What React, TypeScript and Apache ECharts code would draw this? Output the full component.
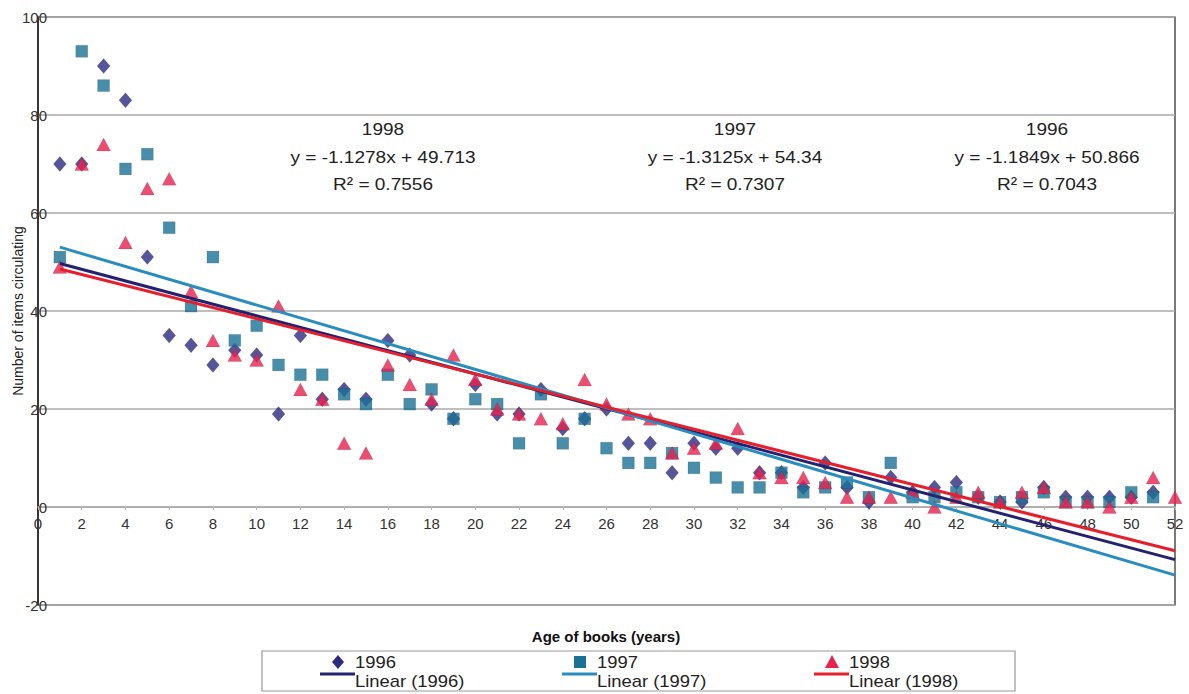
import React, { useEffect, useRef } from "react";
import * as echarts from "echarts";

const ages = [1,2,3,4,5,6,7,8,9,10,11,12,13,14,15,16,17,18,19,20,21,22,23,24,25,26,27,28,29,30,31,32,33,34,35,36,37,38,39,40,41,42,43,44,45,46,47,48,49,50,51,52];
const items1996 = [70,70,90,83,51,35,33,29,32,31,19,35,22,24,22,34,31,21,18,25,19,19,24,16,18,20,13,13,7,13,12,12,7,7,4,9,4,1,6,3,4,5,2,1,1,4,2,2,2,2,3,null];
const items1997 = [51,93,86,69,72,57,41,51,34,37,29,27,27,23,21,27,21,24,18,22,21,13,23,13,18,12,9,9,11,8,6,4,4,7,3,4,5,2,9,2,2,3,2,1,2,3,1,1,1,3,2,null];
const items1998 = [49,70,74,54,65,67,44,34,31,30,41,24,22,13,11,29,25,22,31,26,20,19,18,17,26,21,19,18,11,12,13,16,7,6,6,5,2,2,2,3,0,2,3,1,3,4,1,1,0,2,6,2];

const years = ["1996", "1997", "1998"];
const slopes = [-1.1849, -1.3125, -1.1278];
const intercepts = [50.866, 54.34, 49.713];
const rSquared = ["0.7043", "0.7307", "0.7556"];
const eqTexts = ["y = -1.1849x + 50.866", "y = -1.3125x + 54.34", "y = -1.1278x + 49.713"];

const yTicks = { min: -20, max: 100, interval: 20 };
const xTicks = { min: 0, max: 52, interval: 2 };

const markerColors = ["#2d2b80", "#1a7194", "#e8214e"];
const lineColors = ["#24216e", "#2a8dbd", "#e4202e"];
const symbols = ["diamond", "rect", "triangle"];
const symbolSizes = [[13, 15], 12, [14, 13]];

const GRID = { left: 38, right: 14, top: 17, bottom: 89 };
const H = 694;

export default function App() {
  const ref = useRef<HTMLDivElement>(null);
  useEffect(() => {
    if (!ref.current) return;
    const chart = echarts.init(ref.current, null, { renderer: "svg" });
    const seriesData = [items1996, items1997, items1998];
    const scatter = seriesData.map((arr, k) => ({
      type: "scatter",
      name: years[k],
      symbol: symbols[k],
      symbolSize: symbolSizes[k],
      itemStyle: { color: markerColors[k], borderColor: "rgba(0,0,0,0.25)", borderWidth: 0.5 },
      data: ages.map((a, i) => [a, arr[i]]).filter((p) => p[1] !== null),
      z: 2 + k,
    }));
    const xFirst = ages[0];
    const xLast = ages[ages.length - 1];
    const trend = [0, 1, 2].map((k) => ({
      type: "line",
      name: "Linear (" + years[k] + ")",
      symbol: "none",
      lineStyle: { color: lineColors[k], width: 3 },
      data: [
        [xFirst, slopes[k] * xFirst + intercepts[k]],
        [xLast, slopes[k] * xLast + intercepts[k]],
      ],
      z: 6 + k,
    }));
    const gridH = H - GRID.top - GRID.bottom;
    const zeroOffset = -gridH * (0 - yTicks.min) / (yTicks.max - yTicks.min);

    const annX = [1047, 735, 383];
    const graphics: any[] = [];
    [0, 1, 2].forEach((k) => {
      const x = annX[k];
      const st = { fill: "#222", fontFamily: "Liberation Sans, Arial, sans-serif", fontSize: 17, textAlign: "center", textVerticalAlign: "middle" };
      graphics.push({ type: "text", x, y: 129, scaleX: 1.12, style: { ...st, text: years[k] } });
      graphics.push({ type: "text", x, y: 157, scaleX: 1.12, style: { ...st, text: eqTexts[k] } });
      graphics.push({ type: "text", x, y: 184, scaleX: 1.12, style: { ...st, text: "R² = " + rSquared[k] } });
    });
    graphics.push({
      type: "text", x: 606, y: 636,
      style: { text: "Age of books (years)", fill: "#111", fontFamily: "Liberation Sans, Arial, sans-serif", fontSize: 15, fontWeight: "bold", textAlign: "center", textVerticalAlign: "middle" },
    });
    graphics.push({
      type: "rect", shape: { x: 262, y: 651, width: 753, height: 40 },
      style: { fill: "#fff", stroke: "#999", lineWidth: 1.2 },
    });
    const legX = [338, 580, 832];
    [0, 1, 2].forEach((k) => {
      const cx = legX[k];
      const cy = 662;
      if (k === 0) {
        graphics.push({ type: "polygon", shape: { points: [[cx, cy - 7], [cx + 6, cy], [cx, cy + 7], [cx - 6, cy]] }, style: { fill: markerColors[0] } });
      } else if (k === 1) {
        graphics.push({ type: "rect", shape: { x: cx - 6, y: cy - 6, width: 12, height: 12 }, style: { fill: markerColors[1] } });
      } else {
        graphics.push({ type: "polygon", shape: { points: [[cx, cy - 7], [cx + 7, cy + 6], [cx - 7, cy + 6]] }, style: { fill: markerColors[2] } });
      }
      graphics.push({ type: "line", shape: { x1: cx - 18, y1: 674, x2: cx + 17, y2: 674 }, style: { stroke: lineColors[k], lineWidth: 3 } });
      const tst = { fill: "#222", fontFamily: "Liberation Sans, Arial, sans-serif", fontSize: 16, textAlign: "left", textVerticalAlign: "middle" };
      graphics.push({ type: "text", x: cx + 17, y: 662, scaleX: 1.15, style: { ...tst, text: years[k] } });
      graphics.push({ type: "text", x: cx + 17, y: 681, scaleX: 1.15, style: { ...tst, text: "Linear (" + years[k] + ")" } });
    });

    chart.setOption({
      animation: false,
      backgroundColor: "#fff",
      grid: { ...GRID, show: true, borderColor: "#222", borderWidth: 1.2, backgroundColor: "transparent", containLabel: false, outerBoundsMode: "none" },
      xAxis: {
        type: "value",
        min: xTicks.min, max: xTicks.max, interval: xTicks.interval,
        offset: zeroOffset,
        axisLine: { onZero: false, lineStyle: { color: "#aaa", width: 1.5 } },
        axisTick: { show: true, length: 3, inside: false, lineStyle: { color: "#bbb" } },
        axisLabel: { color: "#333", fontSize: 15, margin: 9, fontFamily: "Liberation Sans, Arial, sans-serif" },
        splitLine: { show: false },
      },
      yAxis: {
        type: "value",
        min: yTicks.min, max: yTicks.max, interval: yTicks.interval,
        name: "Number of items circulating",
        nameLocation: "middle",
        nameGap: 13,
        nameMoveOverlap: false,
        nameTextStyle: { color: "#222", fontSize: 14, fontFamily: "Liberation Sans, Arial, sans-serif" },
        axisLine: { show: true, onZero: false, lineStyle: { color: "#222", width: 1.5 } },
        axisTick: { show: false },
        axisLabel: { color: "#333", fontSize: 15, margin: -9, fontFamily: "Liberation Sans, Arial, sans-serif" },
        splitLine: { show: true, lineStyle: { color: "#aaa", width: 1.5 } },
      },
      series: [...scatter, trend[1], trend[0], trend[2]],
      graphic: graphics,
    });
    return () => chart.dispose();
  }, []);
  return <div ref={ref} style={{ position: "fixed", left: 0, top: 0, width: 1189, height: 694 }} />;
}
